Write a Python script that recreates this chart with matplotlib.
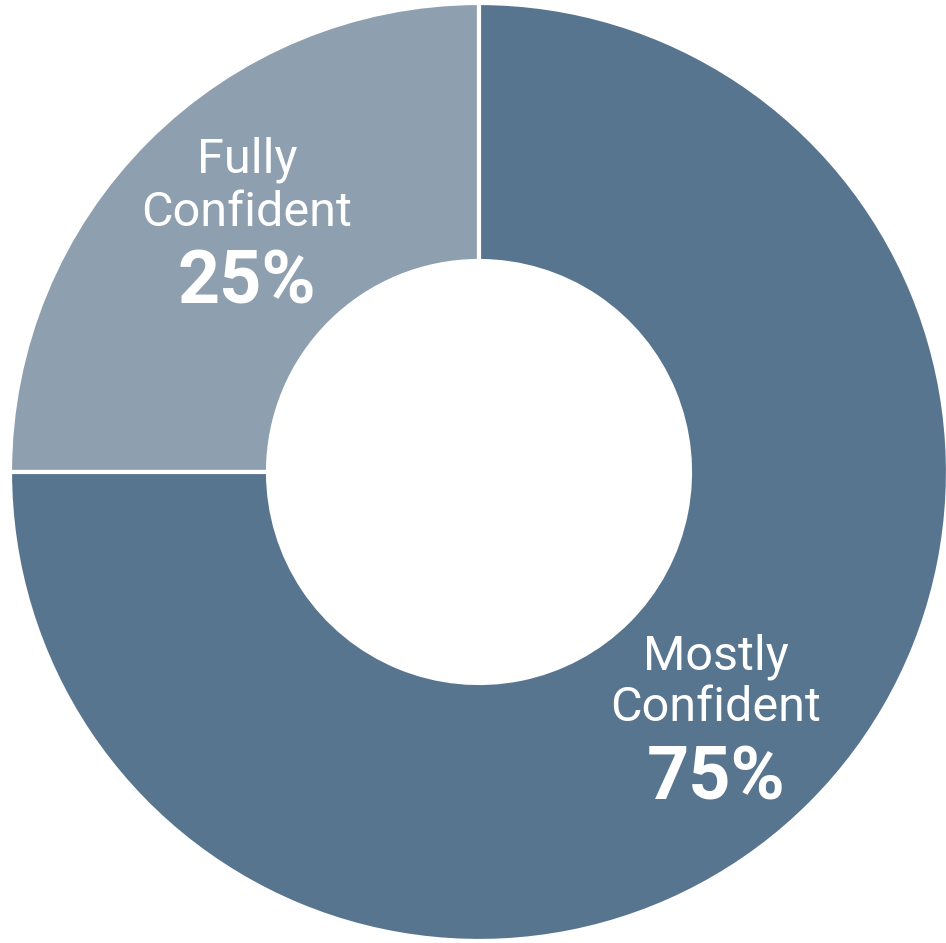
import matplotlib
matplotlib.use("Agg")
import matplotlib.pyplot as plt

labels = ["Fully\nConfident", "Mostly\nConfident"]
shares = [25, 75]
colors = ["#8e9faf", "#58758f"]

W, H = 946, 943
fig = plt.figure(figsize=(W / 100, H / 100), dpi=100)
fig.patch.set_facecolor("white")
ax = fig.add_axes([0, 0, 1, 1])

cx, cy, r = 479, H - 472, 469
ax.pie(shares, colors=colors, startangle=90, counterclock=True,
       center=(cx, cy), radius=r, frame=True,
       wedgeprops=dict(width=r - 211, edgecolor="white", linewidth=3))
ax.set_xlim(0, W)
ax.set_ylim(0, H)
ax.set_aspect("equal")
ax.axis("off")

font = "Roboto"
# label positions (pixels from top)
spots = [(247, 160, 213, 283), (716, 657, 708, 780)]
for lab, val, (x, y1, y2, y3) in zip(labels, shares, spots):
    l1, l2 = lab.split("\n")
    ax.text(x, H - y1, l1, ha="center", va="center", color="white",
            fontsize=35, family=font)
    ax.text(x, H - y2, l2, ha="center", va="center", color="white",
            fontsize=35, family=font)
    ax.text(x, H - y3, f"{val}%", ha="center", va="center", color="white",
            fontsize=53, family=font, fontweight="bold")

fig.savefig("out.png", dpi=100, facecolor="white")
